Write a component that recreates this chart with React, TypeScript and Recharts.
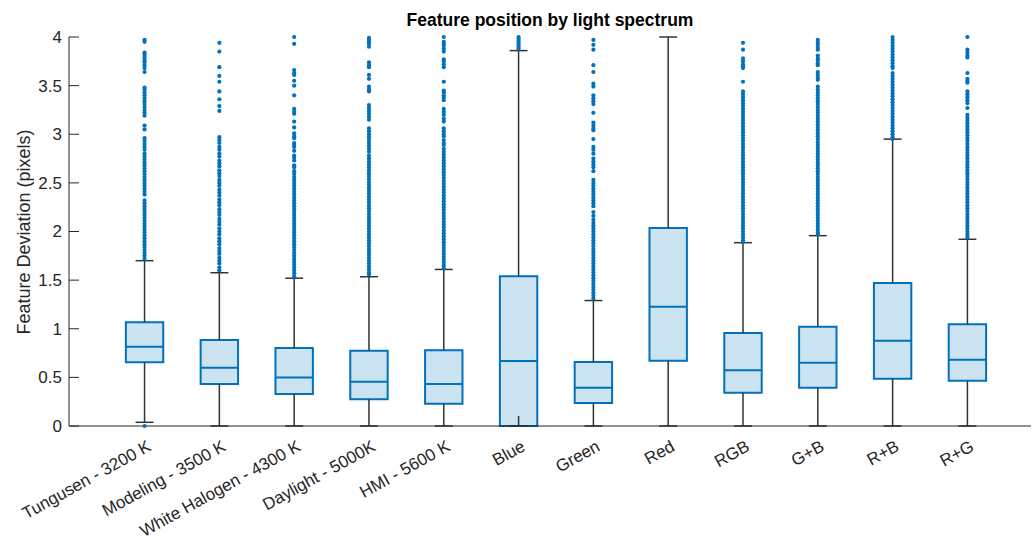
import React from "react";
import {
  ScatterChart,
  Scatter,
  XAxis,
  YAxis,
  ReferenceArea,
  ReferenceLine,
} from "recharts";

const categories = [
  "Tungusen - 3200 K",
  "Modeling - 3500 K",
  "White Halogen - 4300 K",
  "Daylight  - 5000K",
  "HMI - 5600 K",
  "Blue",
  "Green",
  "Red",
  "RGB",
  "G+B",
  "R+B",
  "R+G",
];

const q1 = [0.655, 0.432, 0.329, 0.274, 0.23, 0, 0.236, 0.672, 0.343, 0.394, 0.487, 0.466];
const medians = [0.816, 0.6, 0.5, 0.456, 0.432, 0.668, 0.394, 1.227, 0.572, 0.651, 0.877, 0.682];
const q3 = [1.066, 0.884, 0.802, 0.775, 0.78, 1.54, 0.658, 2.036, 0.956, 1.02, 1.47, 1.045];
const whiskerLow = [0.038, 0, 0, 0, 0, 0, 0, 0, 0, 0, 0, 0];
const whiskerHigh = [1.7, 1.576, 1.52, 1.535, 1.61, 3.86, 1.29, 4.0, 1.885, 1.957, 2.95, 1.92];
const blueStemTop = 0.103;

const tungusenOut = [0, 3.97, 3.95, 3.84, 3.82, 3.79, 3.76, 3.74, 3.71, 3.68, 3.64, 3.48, 3.46, 3.43, 3.4, 3.37, 3.34, 3.31, 3.28, 3.25, 3.22, 3.19, 3.09, 3.05, 2.96, 2.93, 2.9, 2.87, 2.84, 2.8, 2.77, 2.74, 2.71, 2.68, 2.65, 2.62, 2.59, 2.56, 2.53, 2.5, 2.47, 2.44, 2.41, 2.38, 2.32, 2.29, 2.26, 2.23, 2.2, 2.17, 2.14, 2.11, 2.08, 2.05, 2.02, 1.99, 1.96, 1.93, 1.9, 1.87, 1.84, 1.81, 1.78, 1.75, 1.72];
const modelingOut = [3.94, 3.85, 3.69, 3.6, 3.54, 3.44, 3.36, 3.29, 3.24, 2.97, 2.94, 2.91, 2.87, 2.84, 2.8, 2.77, 2.73, 2.7, 2.67, 2.63, 2.6, 2.57, 2.53, 2.5, 2.47, 2.43, 2.4, 2.37, 2.33, 2.3, 2.27, 2.23, 2.2, 2.17, 2.13, 2.1, 2.07, 2.03, 2, 1.97, 1.93, 1.9, 1.87, 1.83, 1.8, 1.77, 1.73, 1.7, 1.67, 1.63, 1.6];
const halogenOut = [4, 3.93, 3.66, 3.63, 3.61, 3.55, 3.5, 3.4, 3.26, 3.23, 3.21, 3.13, 3.07, 3.01, 2.98, 2.96, 2.91, 2.89, 2.87, 2.83, 2.78, 2.76, 2.73, 2.68, 2.66, 2.62, 2.59, 2.56, 2.53, 2.5, 2.47, 2.44, 2.41, 2.38, 2.35, 2.32, 2.29, 2.26, 2.23, 2.2, 2.17, 2.14, 2.11, 2.08, 2.05, 2.02, 1.99, 1.96, 1.93, 1.9, 1.87, 1.84, 1.81, 1.78, 1.75, 1.72, 1.69, 1.66, 1.63, 1.6, 1.57, 1.54];
const daylightOut = [3.99, 3.97, 3.95, 3.93, 3.9, 3.74, 3.71, 3.69, 3.61, 3.57, 3.49, 3.46, 3.44, 3.3, 3.27, 3.24, 3.21, 3.18, 3.15, 3.06, 3.03, 3, 2.97, 2.94, 2.91, 2.88, 2.85, 2.82, 2.78, 2.75, 2.72, 2.69, 2.66, 2.63, 2.6, 2.57, 2.54, 2.51, 2.48, 2.45, 2.42, 2.39, 2.36, 2.33, 2.3, 2.27, 2.24, 2.21, 2.18, 2.15, 2.12, 2.09, 2.06, 2.03, 2, 1.97, 1.94, 1.91, 1.88, 1.85, 1.82, 1.79, 1.76, 1.73, 1.7, 1.67, 1.64, 1.61, 1.58, 1.56];
const hmiOut = [4, 3.95, 3.93, 3.91, 3.88, 3.85, 3.77, 3.75, 3.72, 3.69, 3.54, 3.45, 3.43, 3.4, 3.38, 3.35, 3.26, 3.23, 3.2, 3.16, 3.13, 3.06, 3.03, 3, 2.98, 2.94, 2.91, 2.89, 2.85, 2.82, 2.79, 2.76, 2.73, 2.7, 2.67, 2.64, 2.61, 2.58, 2.55, 2.52, 2.49, 2.46, 2.43, 2.4, 2.37, 2.34, 2.31, 2.28, 2.25, 2.22, 2.19, 2.16, 2.13, 2.1, 2.07, 2.04, 2.01, 1.98, 1.95, 1.92, 1.89, 1.86, 1.83, 1.8, 1.77, 1.74, 1.71, 1.68, 1.65, 1.62];
const blueOut = [3.88, 3.9, 3.92, 3.94, 3.96, 3.98, 4];
const greenOut = [3.97, 3.92, 3.87, 3.71, 3.64, 3.52, 3.49, 3.4, 3.37, 3.34, 3.31, 3.22, 3.12, 3.09, 3.06, 3.04, 2.95, 2.87, 2.84, 2.8, 2.75, 2.72, 2.69, 2.66, 2.62, 2.53, 2.5, 2.47, 2.44, 2.41, 2.38, 2.35, 2.32, 2.29, 2.26, 2.2, 2.16, 2.12, 2.09, 2.06, 2.03, 2, 1.97, 1.94, 1.91, 1.88, 1.85, 1.82, 1.79, 1.76, 1.73, 1.7, 1.67, 1.64, 1.61, 1.58, 1.55, 1.52, 1.49, 1.46, 1.43, 1.4, 1.37, 1.34, 1.31];
const redOut: number[] = [];
const rgbOut = [3.94, 3.87, 3.78, 3.75, 3.72, 3.7, 3.68, 3.54, 3.44, 3.41, 3.38, 3.35, 3.32, 3.29, 3.26, 3.23, 3.2, 3.17, 3.14, 3.11, 3.08, 3.05, 3.02, 2.99, 2.96, 2.93, 2.9, 2.87, 2.84, 2.81, 2.78, 2.75, 2.72, 2.69, 2.66, 2.63, 2.6, 2.57, 2.54, 2.51, 2.48, 2.45, 2.42, 2.39, 2.36, 2.33, 2.3, 2.27, 2.24, 2.21, 2.18, 2.15, 2.12, 2.09, 2.06, 2.03, 2, 1.97, 1.94, 1.91, 1.89];
const gbOut = [3.97, 3.94, 3.92, 3.89, 3.87, 3.81, 3.78, 3.76, 3.73, 3.71, 3.64, 3.61, 3.58, 3.56, 3.49, 3.46, 3.43, 3.4, 3.37, 3.34, 3.31, 3.28, 3.25, 3.22, 3.19, 3.16, 3.13, 3.1, 3.07, 3.04, 3.01, 2.98, 2.95, 2.92, 2.89, 2.86, 2.83, 2.8, 2.77, 2.74, 2.71, 2.68, 2.65, 2.62, 2.59, 2.56, 2.53, 2.5, 2.47, 2.44, 2.41, 2.38, 2.35, 2.32, 2.29, 2.26, 2.23, 2.2, 2.17, 2.14, 2.11, 2.08, 2.05, 2.02, 1.99, 1.97];
const rbOut = [4, 3.97, 3.94, 3.91, 3.88, 3.85, 3.82, 3.79, 3.76, 3.73, 3.7, 3.68, 3.63, 3.6, 3.57, 3.54, 3.51, 3.48, 3.45, 3.42, 3.39, 3.36, 3.33, 3.3, 3.27, 3.24, 3.21, 3.18, 3.15, 3.12, 3.09, 3.06, 3.03, 3, 2.97, 2.95];
const rgOut = [4, 3.87, 3.84, 3.81, 3.79, 3.63, 3.57, 3.55, 3.53, 3.44, 3.41, 3.38, 3.35, 3.32, 3.27, 3.2, 3.17, 3.14, 3.11, 3.08, 3.05, 3.02, 2.99, 2.96, 2.93, 2.9, 2.87, 2.84, 2.81, 2.78, 2.75, 2.72, 2.69, 2.66, 2.63, 2.6, 2.57, 2.54, 2.51, 2.48, 2.45, 2.42, 2.39, 2.36, 2.33, 2.3, 2.27, 2.24, 2.21, 2.18, 2.15, 2.12, 2.09, 2.06, 2.03, 2, 1.97, 1.94];

const outliers = [tungusenOut, modelingOut, halogenOut, daylightOut, hmiOut, blueOut, greenOut, redOut, rgbOut, gbOut, rbOut, rgOut];

const yTicks = [0, 0.5, 1, 1.5, 2, 2.5, 3, 3.5, 4];

const BLUE = "#0072BD";
const DARK = "#262626";
const FONT = "'Liberation Sans', Arial, Helvetica, sans-serif";
const boxHalf = 0.25;
const capHalf = 0.12;

const outlierPoints = outliers.flatMap((vals, i) => vals.map((v) => ({ x: i + 1, y: v })));

const XTick = (props: any) => {
  const { x, y, payload } = props;
  const ax = x + 5;
  const ay = y + 19;
  return (
    <text
      x={ax}
      y={ay}
      transform={`rotate(-29 ${ax} ${ay})`}
      textAnchor="end"
      dominantBaseline="central"
      fontSize={17}
      fontFamily={FONT}
      fill={DARK}
    >
      {categories[payload.value - 1]}
    </text>
  );
};

const YTick = (props: any) => {
  const { x, y, payload } = props;
  return (
    <g>
      <line x1={x + 7} x2={x + 17} y1={y} y2={y} stroke={DARK} strokeWidth={1} />
      <text x={x} y={y} dy="0.35em" textAnchor="end" fontSize={17} fontFamily={FONT} fill={DARK}>
        {String(payload.value)}
      </text>
    </g>
  );
};

const Dot = (props: any) => <circle cx={props.cx} cy={props.cy} r={2.1} fill={BLUE} />;

export default function App() {
  return (
    <div style={{ position: "absolute", left: 0, top: 0, width: 1032, height: 536, background: "#fff" }}>
      <ScatterChart width={1032} height={536} margin={{ top: 37, right: 1, bottom: 0, left: 0 }}>
        <XAxis
          type="number"
          dataKey="x"
          domain={[-0.01, 12.85]}
          ticks={[1, 2, 3, 4, 5, 6, 7, 8, 9, 10, 11, 12]}
          tick={<XTick />}
          tickLine={false}
          tickSize={0}
          tickMargin={0}
          height={110}
          axisLine={{ stroke: DARK }}
          allowDataOverflow
          interval={0}
        />
        <YAxis
          type="number"
          dataKey="y"
          domain={[0, 4]}
          ticks={yTicks}
          tick={<YTick />}
          tickLine={false}
          tickSize={0}
          tickMargin={7}
          width={69}
          axisLine={{ stroke: DARK }}
          interval={0}
        />
        {categories.map((_, i) => (
          <ReferenceLine
            key={`wu${i}`}
            segment={[{ x: i + 1, y: q3[i] }, { x: i + 1, y: whiskerHigh[i] }]}
            stroke="#333"
            strokeWidth={1.5}
            ifOverflow="visible"
          />
        ))}
        {categories.map((_, i) => (
          <ReferenceLine
            key={`wl${i}`}
            segment={[{ x: i + 1, y: whiskerLow[i] }, { x: i + 1, y: q1[i] }]}
            stroke="#333"
            strokeWidth={1.5}
            ifOverflow="visible"
          />
        ))}
        <ReferenceLine
          segment={[{ x: 6, y: 0 }, { x: 6, y: blueStemTop }]}
          stroke="#333"
          strokeWidth={1.5}
          ifOverflow="visible"
        />
        {categories.map((_, i) => (
          <ReferenceLine
            key={`cu${i}`}
            segment={[{ x: i + 1 - capHalf, y: whiskerHigh[i] }, { x: i + 1 + capHalf, y: whiskerHigh[i] }]}
            stroke="#333"
            strokeWidth={1.5}
            ifOverflow="visible"
          />
        ))}
        {categories.map((_, i) => (
          <ReferenceLine
            key={`cl${i}`}
            segment={[{ x: i + 1 - capHalf, y: whiskerLow[i] }, { x: i + 1 + capHalf, y: whiskerLow[i] }]}
            stroke="#333"
            strokeWidth={1.5}
            ifOverflow="visible"
          />
        ))}
        {categories.map((_, i) => (
          <ReferenceArea
            key={`b${i}`}
            x1={i + 1 - boxHalf}
            x2={i + 1 + boxHalf}
            y1={q1[i]}
            y2={q3[i]}
            fill="#cce3f2"
            fillOpacity={1}
            stroke={BLUE}
            strokeWidth={2}
            ifOverflow="visible"
          />
        ))}
        {categories.map((_, i) => (
          <ReferenceLine
            key={`m${i}`}
            segment={[{ x: i + 1 - boxHalf, y: medians[i] }, { x: i + 1 + boxHalf, y: medians[i] }]}
            stroke={BLUE}
            strokeWidth={2}
            ifOverflow="visible"
          />
        ))}
        <Scatter data={outlierPoints} shape={<Dot />} isAnimationActive={false} />
      </ScatterChart>
      <div
        style={{
          position: "absolute",
          left: 69,
          width: 962,
          top: 10,
          textAlign: "center",
          fontFamily: FONT,
          fontWeight: "bold",
          fontSize: 17.5,
          color: "#000",
          lineHeight: "20px",
        }}
      >
        Feature position by light spectrum
      </div>
      <div
        style={{
          position: "absolute",
          left: 24,
          top: 232,
          transform: "translate(-50%, -50%) rotate(-90deg)",
          whiteSpace: "nowrap",
          fontFamily: FONT,
          fontSize: 18,
          color: DARK,
          lineHeight: "20px",
        }}
      >
        Feature Deviation (pixels)
      </div>
    </div>
  );
}
